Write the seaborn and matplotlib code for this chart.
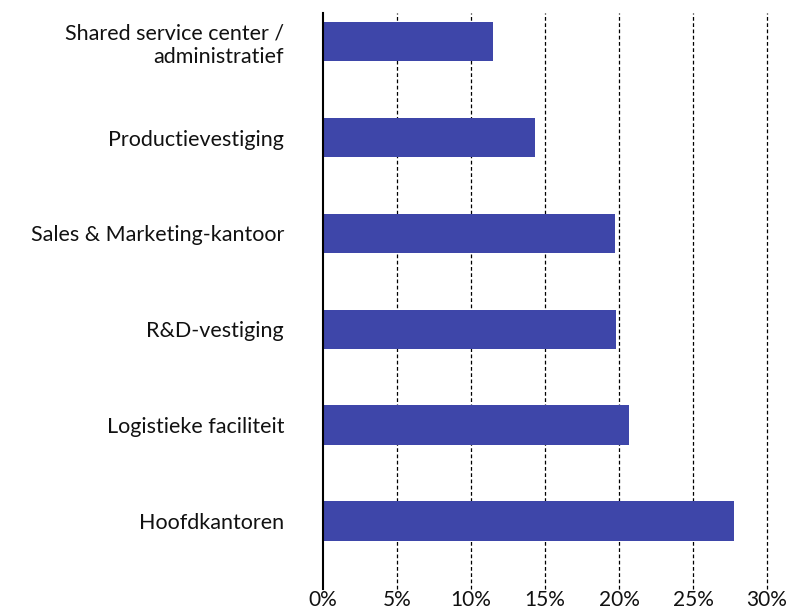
import matplotlib
matplotlib.use("Agg")
import matplotlib.pyplot as plt
import seaborn as sns
import pandas as pd
from matplotlib.ticker import FuncFormatter

categories = ["Shared service center /\nadministratief", "Productievestiging",
              "Sales & Marketing-kantoor", "R&D-vestiging",
              "Logistieke faciliteit", "Hoofdkantoren"]
values = [11.5, 14.3, 19.7, 19.8, 20.7, 27.8]
xticks = [0, 5, 10, 15, 20, 25, 30]

sns.set_theme(style="white")
plt.rcParams['font.family'] = ['Lato', 'DejaVu Sans']

df = pd.DataFrame({"cat": categories, "val": values})

fig = plt.figure(figsize=(7.88, 6.12), dpi=100)
ax = fig.add_axes([323/788, 1-589/612, (767-323)/788, (589-13)/612])
sns.barplot(data=df, y="cat", x="val", orient="h", color="#3E46A9",
            saturation=1, width=0.41, linewidth=0, ax=ax)
ax.set_xlim(0, 30)
ax.set_ylim(5.71, -0.3)
ax.set_xticks(xticks)
ax.xaxis.set_major_formatter(FuncFormatter(lambda v, p: f"{v:.0f}%"))
ax.set_xlabel("")
ax.set_ylabel("")
for x in xticks[1:]:
    ax.axvline(x, color="black", linestyle=(0, (3, 2)), linewidth=0.9,
               zorder=0, clip_on=False)
for s in ["top", "right", "bottom"]:
    ax.spines[s].set_visible(False)
ax.spines["left"].set_color("black")
ax.spines["left"].set_linewidth(1.5)
ax.tick_params(axis="y", length=0, pad=28, labelsize=15.5, colors="#111111")
ax.tick_params(axis="x", length=0, pad=0.5, labelsize=15, colors="#111111")
for t in ax.get_yticklabels():
    t.set_multialignment("right")
fig.savefig("out.png", dpi=100)
